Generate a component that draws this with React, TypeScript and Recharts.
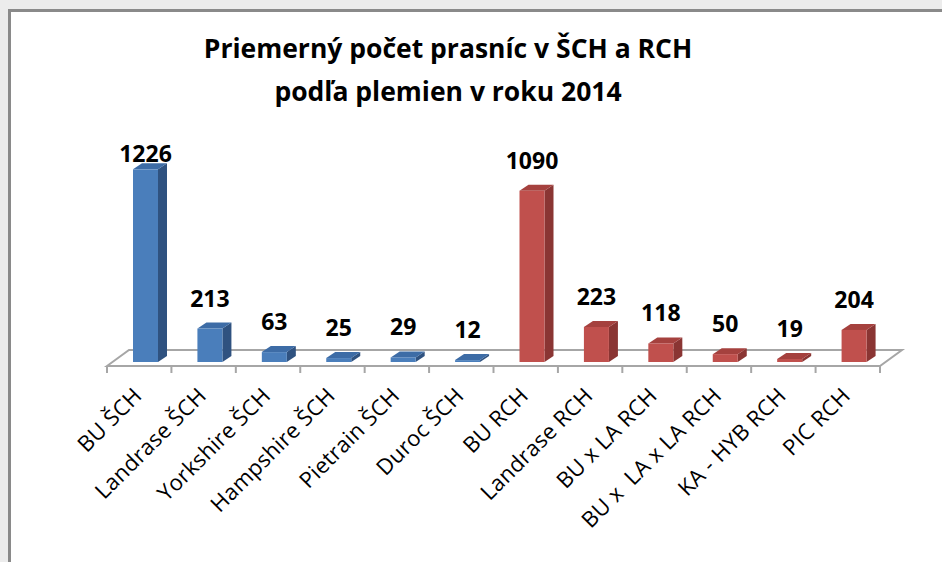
import React from 'react';
import { BarChart, Bar, XAxis, YAxis, LabelList, Customized } from 'recharts';

const categories = [
  'BU ŠCH',
  'Landrase ŠCH',
  'Yorkshire ŠCH',
  'Hampshire ŠCH',
  'Pietrain ŠCH',
  'Duroc ŠCH',
  'BU RCH',
  'Landrase RCH',
  'BU x LA RCH',
  'BU x  LA x LA RCH',
  'KA - HYB RCH',
  'PIC RCH',
];
const values = [1226, 213, 63, 25, 29, 12, 1090, 223, 118, 50, 19, 204];
const groups = ['ŠCH', 'ŠCH', 'ŠCH', 'ŠCH', 'ŠCH', 'ŠCH', 'RCH', 'RCH', 'RCH', 'RCH', 'RCH', 'RCH'];

const titleLines = ['Priemerný počet prasníc v ŠCH a RCH', 'podľa plemien v roku 2014'];

const data = categories.map((name, i) => ({ name, value: values[i], group: groups[i] }));

// farby 3D stlpcov: predna stena, vrch, bok
const FARBY: Record<string, { front: string; top: string; side: string }> = {
  'ŠCH': { front: '#4A7EBB', top: '#3D6CA6', side: '#2F5280' },
  RCH: { front: '#C0504D', top: '#A5413E', side: '#8A3533' },
};

const W = 942;
const H = 562;
const PLOT_L = 107;
const PLOT_R = 880;
const AXIS_Y = 366;
const PLOT_TOP = 146;
const X_AXIS_H = 120;
const FLOOR_DX = 22;
const FLOOR_DY = -16;
const DEPTH_DX = 9;
const DEPTH_DY = -6;
const SHIFT_X = 6; // stlpce stoja v strede hlbky podlahy
const SHIFT_Y = -4;
const FONT = '"Open Sans", Lato, sans-serif';

if (typeof document !== 'undefined') {
  document.documentElement.style.overflow = 'hidden';
  document.body.style.margin = '0';
  document.body.style.overflow = 'hidden';
}

function Floor() {
  const n = categories.length;
  const band = (PLOT_R - PLOT_L) / n;
  const back = AXIS_Y + FLOOR_DY;
  return (
    <g>
      <polygon
        points={`${PLOT_L},${AXIS_Y} ${PLOT_L + FLOOR_DX},${back} ${PLOT_R + FLOOR_DX},${back} ${PLOT_R},${AXIS_Y}`}
        fill="#fff"
        stroke="#A6A6A6"
        strokeWidth={2}
      />
      {Array.from({ length: n + 1 }, (_, i) => (
        <line
          key={i}
          x1={PLOT_L + i * band}
          x2={PLOT_L + i * band}
          y1={AXIS_Y}
          y2={AXIS_Y + 7}
          stroke="#A6A6A6"
          strokeWidth={2}
        />
      ))}
    </g>
  );
}

function Bar3D(props: any) {
  const { x, y, width, height, payload } = props;
  const c = FARBY[payload.group];
  const x0 = x + SHIFT_X;
  const y0 = y + SHIFT_Y;
  const h = Math.max(height, 0);
  return (
    <g>
      <polygon
        points={`${x0 + width},${y0} ${x0 + width + DEPTH_DX},${y0 + DEPTH_DY} ${x0 + width + DEPTH_DX},${y0 + h + DEPTH_DY} ${x0 + width},${y0 + h}`}
        fill={c.side}
      />
      <polygon
        points={`${x0},${y0} ${x0 + DEPTH_DX},${y0 + DEPTH_DY} ${x0 + width + DEPTH_DX},${y0 + DEPTH_DY} ${x0 + width},${y0}`}
        fill={c.top}
      />
      <rect x={x0} y={y0} width={width} height={h} fill={c.front} />
    </g>
  );
}

function ValueLabel(props: any) {
  const { x, y, width, value } = props;
  const cx = x + SHIFT_X + width / 2;
  // label nad stlpcom, pri najvyssich stlpcoch drzany pod nadpisom
  const cy = Math.max(y + SHIFT_Y - 30, 154);
  return (
    <text x={cx} y={cy + 8} textAnchor="middle" fontFamily={FONT} fontWeight={700} fontSize={23} fill="#000">
      {value}
    </text>
  );
}

function CategoryTick(props: any) {
  const { x, payload } = props;
  const tx = x + 4;
  const ty = AXIS_Y + 31;
  return (
    <text
      x={tx}
      y={ty}
      transform={`rotate(-45 ${tx} ${ty})`}
      textAnchor="end"
      fontFamily={FONT}
      fontSize={22}
      letterSpacing={0.3}
      fill="#000"
      style={{ whiteSpace: 'pre' }}
    >
      {payload.value}
    </text>
  );
}

export default function App() {
  return (
    <div style={{ position: 'fixed', left: 0, top: 0, right: 0, bottom: 0, background: '#ECECEC', overflow: 'hidden' }}>
      <div
        style={{
          position: 'absolute',
          left: 8,
          top: 9,
          right: -40,
          bottom: -40,
          background: '#fff',
          borderLeft: '3px solid #8A8A8A',
          borderTop: '3px solid #8A8A8A',
        }}
      />
      <div style={{ position: 'absolute', left: 0, top: 0 }}>
        <BarChart
          width={W}
          height={H}
          data={data}
          margin={{ top: PLOT_TOP, right: W - PLOT_R, left: PLOT_L, bottom: H - AXIS_Y - X_AXIS_H }}
          barSize={25}
        >
          <Customized component={<Floor />} />
          <XAxis dataKey="name" axisLine={false} tickLine={false} height={X_AXIS_H} interval={0} tick={<CategoryTick />} />
          <YAxis hide domain={[0, 1400]} />
          <Bar dataKey="value" shape={<Bar3D />} isAnimationActive={false}>
            <LabelList dataKey="value" content={<ValueLabel />} />
          </Bar>
        </BarChart>
      </div>
      <div
        style={{
          position: 'absolute',
          left: 148,
          top: 27,
          width: 600,
          textAlign: 'center',
          fontFamily: FONT,
          fontWeight: 700,
          fontSize: 26.5,
          lineHeight: '43px',
          color: '#000',
        }}
      >
        {titleLines.map((t) => (
          <div key={t}>{t}</div>
        ))}
      </div>
    </div>
  );
}
